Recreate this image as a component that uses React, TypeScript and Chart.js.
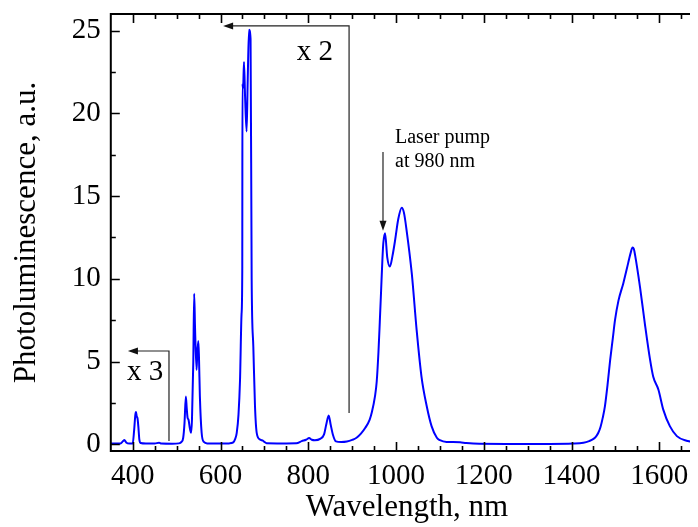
import { useEffect, useRef } from "react";
import { Chart, registerables } from "chart.js";

Chart.register(...registerables);

const wavelengths = [
  350, 360, 372, 378, 381, 385, 392, 400, 403, 406, 407.5, 409, 411, 413, 415, 418,
  430, 450, 460, 465, 490, 505, 511, 515, 518, 521, 523, 525, 527, 530, 533, 535, 538,
  540, 542, 545.5, 547, 549.5, 551, 553, 557, 562, 570, 600, 620, 629, 633, 637, 641,
  644.5, 648, 649.6, 650, 651.5, 653.5, 656, 659.5, 662, 665, 668.5, 671, 674.8, 678.6,
  682.5, 690, 697, 700, 705, 740, 773, 785, 795, 802, 808, 815, 827, 836, 841, 846.5,
  851, 856, 863, 875, 888, 900, 910, 920, 930, 940, 945, 952, 956, 960, 963, 966, 969, 971, 975,
  980, 986, 992, 998, 1005, 1013, 1018, 1024, 1036, 1047, 1058, 1070, 1081, 1093, 1100,
  1115, 1130, 1146, 1160, 1176, 1250, 1350, 1403, 1427, 1440, 1450, 1456, 1461, 1466, 1471,
  1476, 1482, 1488, 1494, 1499, 1507, 1518, 1529, 1535, 1539, 1542, 1545, 1556, 1567,
  1579, 1586, 1598, 1609, 1624, 1640, 1662, 1685, 1700,
];

const intensity = [
  0.05, 0.05, 0.06, 0.2, 0.26, 0.12, 0.05, 0.06, 0.8, 1.8, 1.95, 1.7, 1.55, 1.0, 0.3, 0.08,
  0.05, 0.05, 0.1, 0.05, 0.04, 0.06, 0.15, 0.4, 1.3, 2.9, 2.2, 1.6, 1.5, 1.0, 0.7, 1.5, 5.0,
  9.1, 7.0, 4.5, 5.5, 6.25, 5.2, 2.9, 0.7, 0.15, 0.06, 0.05, 0.06, 0.12, 0.3, 0.7, 1.8,
  3.9, 7.9, 10.5, 21.8, 21.5, 23.1, 21.0, 18.9, 22.0, 25.05, 24.5, 10.0, 5.9, 2.3,
  0.7, 0.3, 0.22, 0.15, 0.07, 0.06, 0.07, 0.2, 0.28, 0.38, 0.28, 0.25, 0.33, 0.6, 1.2, 1.75,
  1.2, 0.6, 0.18, 0.14, 0.17, 0.27, 0.4, 0.65, 1.0, 1.5, 1.95, 2.9, 3.8, 5.6, 7.4, 9.3, 11.2, 12.15, 12.75,
  11.3, 10.74, 11.4, 12.35, 13.6, 14.3, 14.0, 12.95, 10.3, 6.9, 4.1, 2.3, 1.1, 0.4, 0.25,
  0.15, 0.15, 0.13, 0.08, 0.05, 0.03, 0.03, 0.05, 0.1, 0.2, 0.33, 0.48, 0.7, 1.05, 1.6,
  2.3, 3.6, 5.1, 6.4, 7.5, 8.7, 9.74, 10.95, 11.6, 11.9, 11.8, 11.4, 9.5, 7.3,
  5.1, 4.1, 3.3, 2.1, 1.1, 0.5, 0.22, 0.12, 0.1,
];

const xTickValues = [400, 600, 800, 1000, 1200, 1400, 1600];
const yTickValues = [0, 5, 10, 15, 20, 25];

const SERIF = "'Liberation Serif', 'Times New Roman', serif";

function arrowHead(ctx: CanvasRenderingContext2D, x: number, y: number, dir: "left" | "down") {
  ctx.beginPath();
  if (dir === "left") {
    ctx.moveTo(x, y);
    ctx.lineTo(x + 10, y - 3.5);
    ctx.lineTo(x + 10, y + 3.5);
  } else {
    ctx.moveTo(x, y);
    ctx.lineTo(x - 3.5, y - 10);
    ctx.lineTo(x + 3.5, y - 10);
  }
  ctx.closePath();
  ctx.fill();
}

const framePlugin = {
  id: "frameTicks",
  afterDatasetsDraw(chart: any) {
    const { ctx, chartArea: a, scales } = chart;
    const x = scales.x;
    const y = scales.y;
    ctx.save();
    ctx.strokeStyle = "#000";
    ctx.lineWidth = 2;
    ctx.strokeRect(a.left, a.top, a.right - a.left, a.bottom - a.top);
    ctx.lineWidth = 1.6;
    ctx.beginPath();
    for (let v = 400; v <= 1700; v += 50) {
      const px = Math.round(x.getPixelForValue(v)) + 0.5;
      const len = v % 200 === 0 ? 9 : 5;
      ctx.moveTo(px, a.bottom);
      ctx.lineTo(px, a.bottom - len);
      ctx.moveTo(px, a.top);
      ctx.lineTo(px, a.top + len);
    }
    for (let v = 0; v <= 25; v += 2.5) {
      const py = Math.round(y.getPixelForValue(v)) + 0.5;
      const len = v % 5 === 0 ? 9 : 5;
      ctx.moveTo(a.left, py);
      ctx.lineTo(a.left + len, py);
      ctx.moveTo(a.right, py);
      ctx.lineTo(a.right - len, py);
    }
    ctx.stroke();

    ctx.strokeStyle = "#222";
    ctx.fillStyle = "#111";
    ctx.lineWidth = 1.2;
    const X = (v: number) => x.getPixelForValue(v);
    const Y = (v: number) => y.getPixelForValue(v);

    ctx.beginPath();
    ctx.moveTo(X(893), Y(1.9));
    ctx.lineTo(X(893), Y(25.28));
    ctx.lineTo(X(612), Y(25.28));
    ctx.stroke();
    arrowHead(ctx, X(606), Y(25.28), "left");

    ctx.beginPath();
    ctx.moveTo(X(482.6), Y(0.2));
    ctx.lineTo(X(482.6), Y(5.64));
    ctx.lineTo(X(395), Y(5.64));
    ctx.stroke();
    arrowHead(ctx, X(389), Y(5.64), "left");

    ctx.beginPath();
    ctx.moveTo(X(970.3), Y(17.67));
    ctx.lineTo(X(970.3), Y(13.3));
    ctx.stroke();
    arrowHead(ctx, X(970.3), Y(12.9), "down");

    ctx.fillStyle = "#000";
    ctx.textAlign = "left";
    ctx.textBaseline = "alphabetic";
    ctx.font = `29px ${SERIF}`;
    ctx.fillText("x 2", X(774), Y(23.23));
    ctx.fillText("x 3", X(387), Y(3.89));
    ctx.font = `20px ${SERIF}`;
    ctx.fillText("Laser pump", X(997.7), Y(18.23));
    ctx.fillText("at 980 nm", X(997.7), Y(16.78));
    ctx.restore();
  },
};

export default function App() {
  const ref = useRef<HTMLCanvasElement | null>(null);

  useEffect(() => {
    if (!ref.current) return;
    const points = wavelengths.map((w, i) => ({ x: w, y: intensity[i] }));
    const chart = new Chart(ref.current, {
      type: "line",
      data: {
        datasets: [
          {
            data: points,
            borderColor: "#0000ff",
            borderWidth: 2,
            pointRadius: 0,
            fill: false,
            cubicInterpolationMode: "monotone",
          },
        ],
      },
      options: {
        responsive: false,
        animation: false,
        devicePixelRatio: 1,
        layout: { padding: { top: 6, right: 14.8, left: 0, bottom: 0 } },
        plugins: { legend: { display: false }, tooltip: { enabled: false } },
        scales: {
          x: {
            type: "linear",
            min: 350,
            max: 1700,
            border: { display: false },
            grid: { display: false, drawTicks: false },
            afterBuildTicks: (s: any) => {
              s.ticks = xTickValues.map((v) => ({ value: v }));
            },
            afterFit: (s: any) => {
              s.height = 76;
              s.paddingLeft = 0;
              s.paddingRight = 0;
              s.paddingTop = 0;
              s.paddingBottom = 0;
            },
            ticks: {
              color: "#000",
              font: { family: SERIF, size: 29 },
              padding: 8,
              maxRotation: 0,
              autoSkip: false,
              callback: (v: any) => String(v),
            },
            title: {
              display: true,
              text: "Wavelength, nm",
              color: "#000",
              font: { family: SERIF, size: 31 },
              padding: { top: 0, bottom: 1 },
            },
          },
          y: {
            type: "linear",
            min: -0.4,
            max: 26,
            border: { display: false },
            grid: { display: false, drawTicks: false },
            afterBuildTicks: (s: any) => {
              s.ticks = yTickValues.map((v) => ({ value: v }));
            },
            afterFit: (s: any) => {
              s.width = 102.8;
              s.paddingLeft = 0;
              s.paddingRight = 0;
              s.paddingTop = 0;
              s.paddingBottom = 0;
            },
            ticks: {
              color: "#000",
              font: { family: SERIF, size: 29 },
              padding: 10,
              autoSkip: false,
              callback: (v: any) => String(v),
            },
            title: {
              display: true,
              text: "Photoluminescence, a.u.",
              color: "#000",
              font: { family: SERIF, size: 31 },
              padding: { top: 0, bottom: 0 },
            },
          },
        },
      },
      plugins: [framePlugin],
    });
    return () => chart.destroy();
  }, []);

  return (
    <div style={{ width: 690, height: 519, overflow: "hidden", position: "relative" }}>
      <canvas ref={ref} width={710} height={519} style={{ display: "block", width: 710, height: 519 }} />
    </div>
  );
}
